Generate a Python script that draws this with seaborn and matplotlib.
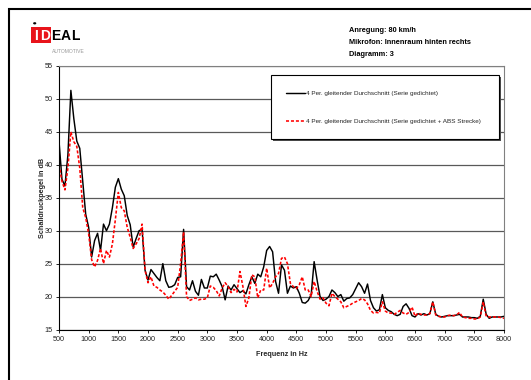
import matplotlib
matplotlib.use("Agg")
import matplotlib.pyplot as plt
from matplotlib import font_manager
from matplotlib.patches import Rectangle, Circle
import pandas as pd
import seaborn as sns

# Frequency grid (Hz)
freq_hz = [
    500, 550, 600, 650, 700, 750, 800, 850, 900, 950,
    1000, 1050, 1100, 1150, 1200, 1250, 1300, 1350, 1400, 1450,
    1500, 1550, 1600, 1650, 1700, 1750, 1800, 1850, 1900, 1950,
    2000, 2050, 2100, 2150, 2200, 2250, 2300, 2350, 2400, 2450,
    2500, 2550, 2600, 2650, 2700, 2750, 2800, 2850, 2900, 2950,
    3000, 3050, 3100, 3150, 3200, 3250, 3300, 3350, 3400, 3450,
    3500, 3550, 3600, 3650, 3700, 3750, 3800, 3850, 3900, 3950,
    4000, 4050, 4100, 4150, 4200, 4250, 4300, 4350, 4400, 4450,
    4500, 4550, 4600, 4650, 4700, 4750, 4800, 4850, 4900, 4950,
    5000, 5050, 5100, 5150, 5200, 5250, 5300, 5350, 5400, 5450,
    5500, 5550, 5600, 5650, 5700, 5750, 5800, 5850, 5900, 5950,
    6000, 6050, 6100, 6150, 6200, 6250, 6300, 6350, 6400, 6450,
    6500, 6550, 6600, 6650, 6700, 6750, 6800, 6850, 6900, 6950,
    7000, 7050, 7100, 7150, 7200, 7250, 7300, 7350, 7400, 7450,
    7500, 7550, 7600, 7650, 7700, 7750, 7800, 7850, 7900, 7950,
    8000,
]

# Sound pressure level (dB), 4-point moving average: series sealed
pegel_serie = [
    43.6, 37.8, 36.8, 41.5, 51.3, 47.0, 43.6, 42.5, 37.5, 32.5,
    30.5, 26.0, 28.5, 29.6, 27.0, 31.0, 30.0, 31.0, 33.5, 36.6,
    37.9, 36.3, 35.3, 32.3, 30.9, 27.5, 28.8, 30.0, 30.2, 24.0,
    22.5, 24.1, 23.5, 22.9, 22.4, 25.0, 22.4, 21.4, 21.5, 21.8,
    22.9, 23.0, 30.2, 21.5, 21.0, 22.4, 20.8, 20.2, 22.6, 21.3,
    21.3, 23.1, 23.0, 23.4, 22.5, 21.5, 19.5, 21.6, 21.0, 21.8,
    21.2, 20.6, 20.9, 20.4, 21.8, 23.0, 22.0, 23.4, 23.0, 24.5,
    27.0, 27.6, 26.8, 22.3, 20.5, 24.8, 24.0, 20.5, 21.6, 21.3,
    21.5, 20.5, 19.1, 19.0, 19.4, 20.3, 25.3, 22.5, 20.0, 19.4,
    19.6, 20.0, 21.0, 20.6, 20.0, 20.3, 19.3, 19.7, 19.8, 20.3,
    21.2, 22.1, 21.5, 20.5, 21.9, 19.4, 18.3, 17.8, 18.0, 20.3,
    18.3, 17.9, 17.7, 17.3, 17.1, 17.3, 18.5, 18.9, 18.2, 17.1,
    16.9, 17.4, 17.2, 17.4, 17.2, 17.4, 19.2, 17.3, 17.0, 16.9,
    17.0, 17.1, 17.1, 17.1, 17.2, 17.3, 16.9, 16.9, 16.9, 16.8,
    16.8, 16.7, 17.0, 19.6, 17.3, 16.7, 16.9, 16.9, 16.9, 16.9,
    17.0,
]

# Sound pressure level (dB), 4-point moving average: series sealed + ABS track
pegel_abs = [
    40.0, 37.5, 36.2, 39.5, 45.0, 43.5, 42.8, 39.5, 33.5, 32.0,
    29.5, 25.6, 24.5, 25.5, 27.3, 25.0, 27.0, 26.0, 28.0, 31.7,
    35.8, 33.5, 33.0, 30.5, 29.0, 27.3, 28.0, 28.8, 31.0, 24.0,
    22.1, 23.0, 21.6, 21.4, 21.0, 20.7, 20.2, 19.6, 20.2, 20.8,
    21.4, 25.0, 29.8, 20.0, 19.4, 19.6, 19.8, 19.5, 19.6, 19.6,
    19.8, 21.6, 21.4, 20.9, 20.1, 21.3, 22.1, 21.5, 20.6, 21.1,
    20.7, 23.8, 21.5, 18.5, 19.8, 23.3, 23.0, 19.8, 21.0, 21.0,
    24.3, 21.3, 22.0, 23.0, 23.5, 25.8, 26.0, 25.0, 22.0, 21.5,
    21.2, 21.8, 23.0, 21.0, 21.0, 20.0, 22.3, 20.8, 19.6, 19.8,
    19.0, 18.6, 20.5, 20.0, 19.6, 19.2, 18.3, 18.5, 18.7, 19.0,
    19.2, 19.4, 19.7, 19.5, 18.9, 17.9, 17.5, 17.6, 17.5, 19.2,
    17.8, 17.5, 17.5, 17.3, 17.6, 17.9, 17.5, 17.3, 17.6, 18.4,
    17.0, 17.5, 17.3, 17.2, 17.2, 17.4, 19.2, 17.2, 17.0, 16.9,
    16.9, 17.1, 17.2, 17.1, 17.2, 17.6, 16.9, 16.8, 16.7, 16.7,
    16.6, 16.6, 16.9, 19.2, 17.0, 16.9, 16.9, 16.9, 16.9, 16.8,
    16.7,
]

x_ticks = [500, 1000, 1500, 2000, 2500, 3000, 3500, 4000,
           4500, 5000, 5500, 6000, 6500, 7000, 7500, 8000]
y_ticks = [15, 20, 25, 30, 35, 40, 45, 50, 55]

series_labels = [
    "4 Per. gleitender Durchschnitt (Serie gedichtet)",
    "4 Per. gleitender Durchschnitt (Serie gedichtet + ABS Strecke)",
]
header_lines = [
    "Anregung: 80 km/h",
    "Mikrofon: Innenraum hinten rechts",
    "Diagramm: 3",
]
x_label = "Frequenz in Hz"
y_label = "Schalldruckpegel in dB"

sns.set_style("white")
installed = {f.name for f in font_manager.fontManager.ttflist}
narrow = "Liberation Sans Narrow" if "Liberation Sans Narrow" in installed else "Liberation Sans"
plt.rcParams["font.family"] = [narrow, "DejaVu Sans"]

W, H = 531, 380
fig = plt.figure(figsize=(W / 100, H / 100), dpi=100)
fig.patch.set_facecolor("white")


def fx(px):
    return px / W


def fy(py):
    return 1 - py / H


ax = fig.add_axes([fx(59), fy(329.5), fx(504) - fx(59), fy(66) - fy(329.5)])

df = pd.DataFrame({"freq": freq_hz, "serie": pegel_serie, "abs": pegel_abs})
sns.lineplot(data=df, x="freq", y="serie", ax=ax, color="black", linewidth=1.05,
             label=series_labels[0])
sns.lineplot(data=df, x="freq", y="abs", ax=ax, color="#ff0000", linewidth=1.15,
             linestyle=(0, (1.9, 1.2)), label=series_labels[1])

ax.set_xlim(500, 8000)
ax.set_ylim(15, 55)
ax.set_xticks(x_ticks)
ax.set_yticks(y_ticks)
ax.set_xticklabels([str(t) for t in x_ticks])
ax.set_yticklabels([str(t) for t in y_ticks])
ax.grid(axis="y", color="0.35", linewidth=0.9)
ax.grid(axis="x", visible=False)
ax.set_axisbelow(True)

for side in ("left", "bottom"):
    ax.spines[side].set_color("black")
    ax.spines[side].set_linewidth(0.8)
for side in ("top", "right"):
    ax.spines[side].set_color("0.5")
    ax.spines[side].set_linewidth(0.8)

ax.tick_params(axis="both", direction="out", length=2.5, width=0.6, color="black",
               labelsize=5.2, labelcolor="#222222", pad=2,
               bottom=True, left=True, top=False, right=False)

ax.set_xlabel(x_label, fontsize=5.2, fontweight="bold")
ax.set_ylabel(y_label, fontsize=5.2, fontweight="bold")
ax.xaxis.set_label_coords(0.5, -(354.3 - 329.5) / 263.5)
ax.xaxis.label.set_verticalalignment("center")
ax.yaxis.set_label_coords((42 - 59) / 445, 0.5)
ax.yaxis.label.set_verticalalignment("center")

leg = ax.legend(loc="upper left", bbox_to_anchor=(0.476, 0.966, 0.513, 0.0),
                mode="expand", ncol=1, fontsize=4.6, frameon=True, fancybox=False,
                edgecolor="black", framealpha=1, borderpad=2.4, labelspacing=3.55,
                handlelength=2.9, handletextpad=0.15, borderaxespad=0)
leg.get_frame().set_linewidth(0.8)
leg.set_zorder(6)

# Drop shadow on the right and bottom of the legend box
fig.canvas.draw()
lbb = leg.get_window_extent().transformed(ax.transAxes.inverted())
ax_bb = ax.get_window_extent()
dx, dy = 1.8 / ax_bb.width, 1.8 / ax_bb.height
ax.add_patch(Rectangle((lbb.x0 + dx, lbb.y0 - dy), lbb.width, lbb.height,
                       transform=ax.transAxes, facecolor="0.3", edgecolor="none",
                       zorder=5.5, clip_on=False))

# Header text block
for i, line in enumerate(header_lines):
    fig.text(fx(349), fy(30.5 + i * 11.8), line, fontsize=5.3, fontweight="bold",
             ha="left", va="center", color="black")

# Company logo
fig.add_artist(Rectangle((fx(31), fy(43)), fx(20), fy(27) - fy(43),
                         transform=fig.transFigure, facecolor="#e8141b",
                         edgecolor="none"))
fig.add_artist(Circle((fx(34.7), fy(23.3)), 1.6 / W, transform=fig.transFigure,
                      facecolor="black", edgecolor="none"))
for ch, px, col in [("I", 36, "white"), ("D", 45, "white"),
                    ("E", 56, "black"), ("A", 65.5, "black"), ("L", 75, "black")]:
    fig.text(fx(px), fy(35.5), ch, fontsize=10, fontweight="bold", color=col,
             ha="center", va="center")
fig.text(fx(52), fy(51.7), "AUTOMOTIVE", fontsize=3.6, color="0.6",
         ha="left", va="center")

# Page frame
fig.add_artist(Rectangle((fx(8.5), -0.2), 1.5, fy(8.5) + 0.2,
                         transform=fig.transFigure, fill=False,
                         edgecolor="black", linewidth=1.5))

fig.savefig("out.png", dpi=100, facecolor="white")
